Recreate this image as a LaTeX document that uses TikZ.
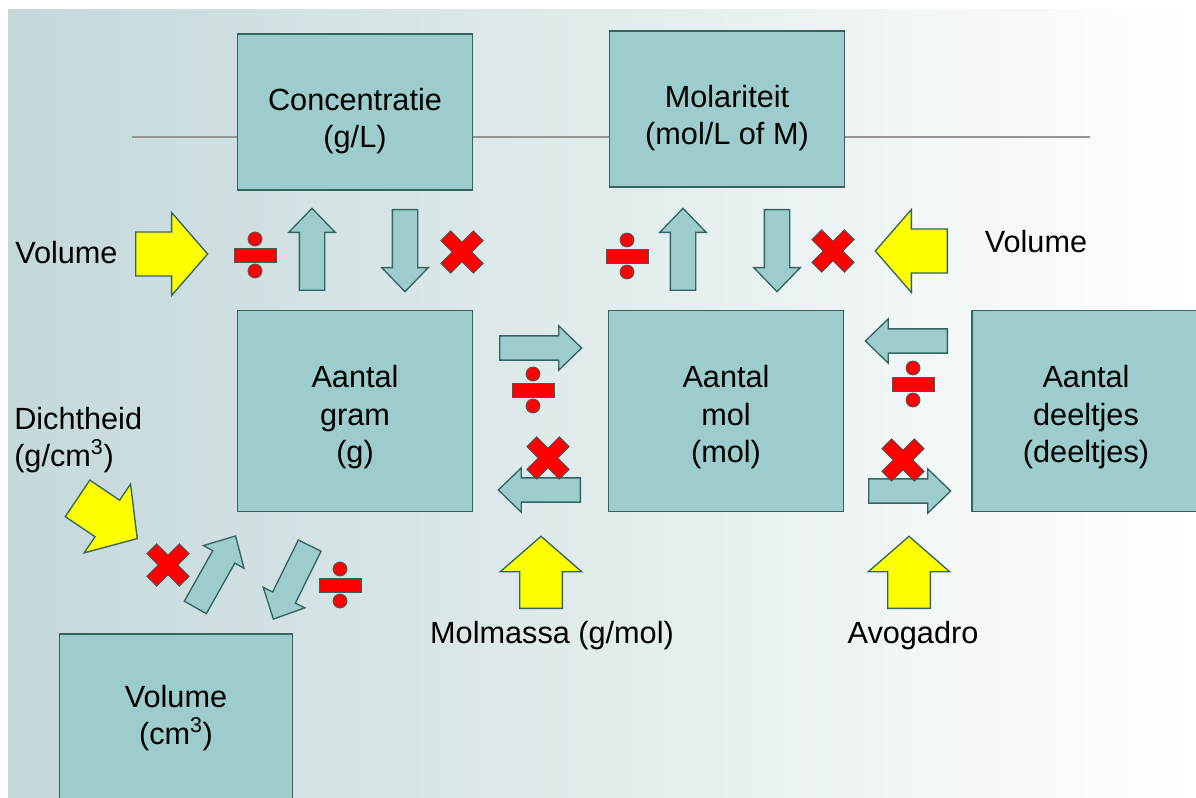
\documentclass[tikz,border=0pt]{standalone}
\usepackage{fontspec}
\setmainfont{Liberation Sans}
\usetikzlibrary{shapes.arrows}

\definecolor{boxfill}{RGB}{157,204,204}
\definecolor{boxline}{RGB}{52,100,100}
\definecolor{inyellow}{RGB}{255,255,0}
\definecolor{signred}{RGB}{255,0,0}
\definecolor{rulegray}{RGB}{150,150,150}
\definecolor{bgleft}{RGB}{196,216,218}

\tikzset{
  quantity/.style={draw=boxline, fill=boxfill, line width=1.2pt, align=center, inner sep=0pt},
  lowered/.style={text height=#1},
  label text/.style={inner sep=0pt, align=left},
  convarrow/.style={single arrow, draw=boxline, fill=boxfill, line width=1pt, anchor=tail,
    inner xsep=0pt, inner ysep=9pt, minimum height=61.5pt, single arrow head extend=7.9pt,
    single arrow tip angle=88, single arrow head indent=0pt},
  givenarrow/.style={single arrow, draw=boxline, fill=inyellow, line width=1pt, anchor=tail,
    inner xsep=0pt, inner ysep=16pt, minimum height=54pt, single arrow head extend=14.6pt,
    single arrow tip angle=98, single arrow head indent=0pt},
  divsign/.pic={
    \filldraw[fill=signred, draw=boxline, line width=0.6pt] (-21,-7) rectangle (21,7);
    \filldraw[fill=signred, draw=boxline, line width=0.6pt] (0,-16) circle[radius=7];
    \filldraw[fill=signred, draw=boxline, line width=0.6pt] (0,16) circle[radius=7];
  },
  mulsign/.pic={
    \filldraw[fill=signred, draw=boxline, line width=0.6pt, rotate=45]
      (7,7) -- (7,23) -- (-7,23) -- (-7,7) -- (-23,7) -- (-23,-7) -- (-7,-7)
      -- (-7,-23) -- (7,-23) -- (7,-7) -- (23,-7) -- (23,7) -- cycle;
  }
}

\begin{document}
\begin{tikzpicture}[x=0.75pt, y=-0.75pt, font=\fontsize{23}{28}\selectfont]
    \useasboundingbox (0,0) rectangle (1196,798);
    \fill[white] (0,0) rectangle (1196,798);
    \shade[left color=bgleft, right color=white] (8,10) rectangle (1196,798);

    % rule behind the top row
    \coordinate (rule west) at (132,137);
    \coordinate (rule east) at (1090,137);
    \draw[rulegray, line width=2pt] (rule west) -- (rule east);

    % quantities
    \node[quantity, lowered=58.5pt, minimum width=176pt, minimum height=117pt] (conc) at (355,112)
      {Concentratie\\(g/L)};
    \node[quantity, lowered=58pt, minimum width=176pt, minimum height=117pt] (molar) at (727,109)
      {Molariteit\\(mol/L of M)};
    \node[quantity, lowered=82pt, minimum width=176pt, minimum height=150.75pt] (gram) at (355,411)
      {Aantal\\gram\\(g)};
    \node[quantity, lowered=82pt, minimum width=176pt, minimum height=150.75pt] (mol) at (726,411)
      {Aantal\\mol\\(mol)};
    \node[quantity, lowered=82pt, minimum width=171pt, minimum height=150.75pt] (part) at (1086,411)
      {Aantal\\deeltjes\\(deeltjes)};
    \node[quantity, minimum width=175pt, minimum height=126pt] (vol) at (176,718)
      {Volume\\(cm\textsuperscript{3})};

    % given quantities
    \node[label text, anchor=west] (volume l) at (15,253) {Volume};
    \node[label text] (volume r) at (1036,242) {Volume};
    \node[label text, anchor=west] (density) at (14,440) {Dichtheid\\(g/cm\textsuperscript{3})};
    \node[label text] (molmass) at (552,636) {Molmassa (g/mol)};
    \node[label text] (avogadro) at (913,636) {Avogadro};

    \node[givenarrow] (in volume l) at (135,254) {};
    \node[givenarrow, rotate=180] (in volume r) at (948,251) {};
    \node[givenarrow, rotate=90, inner ysep=15.5pt] (in molmass) at (541,609) {};
    \node[givenarrow, rotate=90, inner ysep=15.5pt] (in avogadro) at (909,609) {};
    \node[givenarrow, rotate=-34] (in density) at (77,498) {};

    % conversions
    \node[convarrow, rotate=90] (gram to conc) at (312,291) {};
    \node[convarrow, rotate=-90] (conc to gram) at (405,209) {};
    \node[convarrow, rotate=90] (mol to molar) at (683,291) {};
    \node[convarrow, rotate=-90] (molar to mol) at (777,209) {};
    \node[convarrow, inner ysep=8.6pt, single arrow head extend=7.5pt] (gram to mol) at (499,348) {};
    \node[convarrow, inner ysep=8.6pt, single arrow head extend=7.5pt, rotate=180] (mol to gram) at (581,490) {};
    \node[convarrow, inner ysep=8.6pt, single arrow head extend=7.5pt, rotate=180] (part to mol) at (948,341) {};
    \node[convarrow, inner ysep=8.6pt, single arrow head extend=7.5pt] (mol to part) at (868,491) {};
    \node[convarrow, rotate=60.6] (vol to gram) at (195,608) {};
    \node[convarrow, rotate=-116.3] (gram to vol) at (310,545) {};

    \pic at (255,255) {divsign};
    \pic at (462,252) {mulsign};
    \pic at (627,256) {divsign};
    \pic at (833,251) {mulsign};
    \pic at (533,390) {divsign};
    \pic at (548,458) {mulsign};
    \pic at (913,384) {divsign};
    \pic at (903,460) {mulsign};
    \pic at (168,565) {mulsign};
    \pic at (340,585) {divsign};
\end{tikzpicture}
\end{document}
